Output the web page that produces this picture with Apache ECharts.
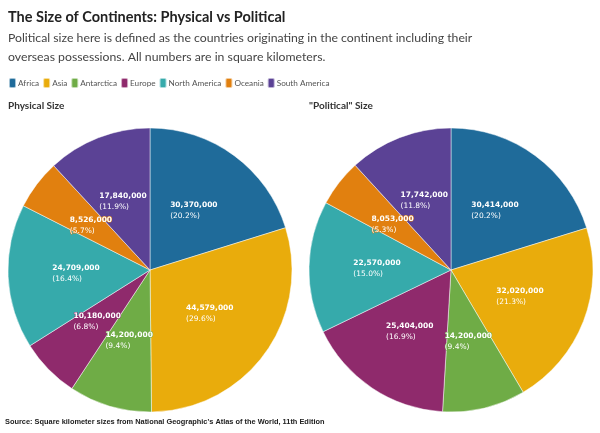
<!DOCTYPE html>
<html>
<head>
<meta charset="utf-8">
<script src="https://cdn.jsdelivr.net/npm/echarts@6/dist/echarts.min.js"></script>
<style>
  html, body { margin: 0; padding: 0; background: #fff; }
  #main { width: 600px; height: 433px; }
</style>
</head>
<body>
<div id="main"></div>
<script>
// 数据
var continents = ['Africa', 'Asia', 'Antarctica', 'Europe', 'North America', 'Oceania', 'South America'];
var physicalSize = [30370000, 44579000, 14200000, 10180000, 24709000, 8526000, 17840000];
var politicalSize = [30414000, 32020000, 14200000, 25404000, 22570000, 8053000, 17742000];
var colors = ['#1f6b9a', '#e9ac0c', '#6fac46', '#8f2a6c', '#36aaab', '#e1800f', '#5b4295'];

var myChart = echarts.init(document.getElementById('main'));

function fmt(v) {
    return v.toString().replace(/\B(?=(\d{3})+(?!\d))/g, ',');
}

function buildData(values) {
    return continents.map(function (name, i) {
        return {
            name: name,
            value: values[i],
            itemStyle: { color: colors[i] },
            label: { textBorderColor: colors[i] }
        };
    });
}

function pieSeries(name, values, cx) {
    return {
        name: name,
        type: 'pie',
        center: [cx, 270],
        radius: [0, 142],
        startAngle: 90,
        clockwise: true,
        animation: false,
        avoidLabelOverlap: false,
        itemStyle: { borderColor: 'rgba(255,255,255,0.6)', borderWidth: 0.8 },
        emphasis: { disabled: true },
        labelLayout: { hideOverlap: false },
        label: {
            show: true,
            position: 'inside',
            formatter: function (p) {
                return '{v|' + fmt(p.value) + '}\n{p|(' + p.percent.toFixed(1) + '%)}';
            },
            textBorderWidth: 1,
            rich: {
                v: { color: '#fff', fontFamily: 'DejaVu Sans', fontWeight: 'bold', fontSize: 7.5, align: 'left', lineHeight: 11 },
                p: { color: '#fff', fontFamily: 'DejaVu Sans', fontSize: 7.5, align: 'left', lineHeight: 11 }
            }
        },
        labelLine: { show: false },
        data: buildData(values)
    };
}

var option = {
    backgroundColor: '#fff',
    title: [
        {
            text: 'The Size of Continents: Physical vs Political',
            left: 8, top: 10, padding: 0,
            textStyle: { fontFamily: 'Lato', fontSize: 14.5, fontWeight: 'bold', color: '#222' }
        },
        {
            text: 'Political size here is defined as the countries originating in the continent including their\noverseas possessions. All numbers are in square kilometers.',
            left: 8, top: 29, padding: 0,
            textStyle: { fontFamily: 'Lato', fontSize: 12.25, fontWeight: 'normal', color: '#444', lineHeight: 19 }
        },
        {
            text: 'Physical Size',
            left: 8, top: 101, padding: 0,
            textStyle: { fontFamily: 'Lato', fontSize: 10, fontWeight: 'bold', color: '#333' }
        },
        {
            text: '"Political" Size',
            left: 309, top: 101, padding: 0,
            textStyle: { fontFamily: 'Lato', fontSize: 10, fontWeight: 'bold', color: '#333' }
        },
        {
            text: "Source: Square kilometer sizes from National Geographic's Atlas of the World, 11th Edition",
            left: 5, top: 418, padding: 0,
            textStyle: { fontFamily: 'Liberation Sans', fontSize: 7.4, fontWeight: 'bold', color: '#222' }
        }
    ],
    legend: {
        data: continents,
        left: 8, top: 77,
        icon: 'roundRect',
        itemWidth: 7, itemHeight: 10,
        itemGap: 3,
        padding: 0,
        selectedMode: false,
        textStyle: { fontFamily: 'Lato', fontSize: 8.2, color: '#555', padding: [0, 0, 0, -3] }
    },
    series: [
        pieSeries('Physical Size', physicalSize, 150),
        pieSeries('"Political" Size', politicalSize, 451)
    ]
};

myChart.setOption(option);
</script>
</body>
</html>
